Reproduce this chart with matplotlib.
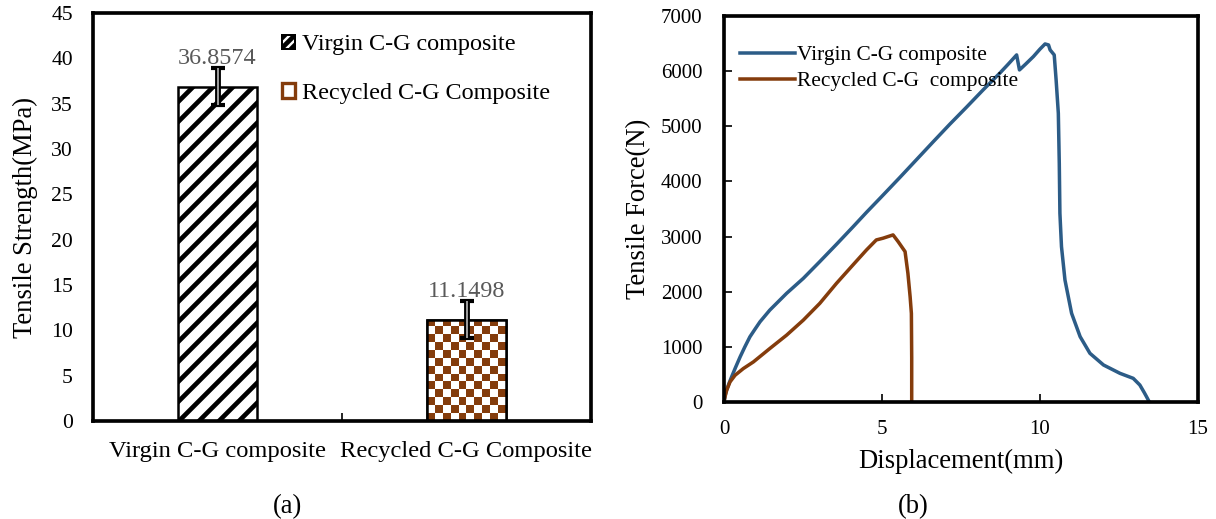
import numpy as np
import matplotlib
matplotlib.use("Agg")
import matplotlib.pyplot as plt
from matplotlib.patches import Patch

# =====================================================
# Data
# =====================================================

# (a) bar chart
categories = ["Virgin C-G composite", "Recycled C-G Composite"]
strength = [36.8574, 11.1498]
strength_err = [2.05, 2.05]
legend_a = ["Virgin C-G composite", "Recycled C-G Composite"]

# (b) force-displacement curves
virgin_x = [0.0, 0.03, 0.08, 0.16, 0.24, 0.36, 0.51, 0.66, 0.82, 0.98, 1.14,
            1.45, 1.98, 2.51, 3.03, 3.56, 4.08, 4.51, 4.98, 5.57, 6.10,
            6.63, 7.15, 7.68, 8.20, 8.73, 9.00, 9.26, 9.35, 9.55, 9.79,
            10.00, 10.16, 10.27, 10.32, 10.45, 10.51, 10.58, 10.61, 10.63,
            10.68, 10.79, 11.00, 11.27, 11.58, 12.01, 12.53, 12.95, 13.16,
            13.30, 13.37, 13.46]
virgin_y = [0, 100, 212, 340, 455, 620, 818, 1000, 1182, 1320, 1455,
            1667, 1970, 2242, 2545, 2860, 3175, 3440, 3720, 4075, 4400,
            4725, 5040, 5350, 5660, 5965, 6130, 6294, 6022, 6130, 6264,
            6400, 6493, 6475, 6385, 6294, 5840, 5236, 4329, 3422,
            2817, 2213, 1608, 1185, 883, 671, 520, 429, 308,
            170, 97, 0]

recycled_x = [0.0, 0.02, 0.05, 0.084, 0.19, 0.35, 0.61, 0.93, 1.45, 1.98,
              2.51, 3.03, 3.56, 4.08, 4.51, 4.82, 5.03, 5.35, 5.51, 5.73,
              5.82, 5.89, 5.93, 5.94, 5.94]
recycled_y = [0, 60, 140, 212, 364, 485, 606, 727, 970, 1212,
              1485, 1788, 2152, 2485, 2758, 2939, 2970, 3030, 2909, 2727,
              2333, 1909, 1606, 800, 0]

legend_b = ["Virgin C-G composite", "Recycled C-G  composite"]

# colours
brown = "#843C0C"
blue = "#2C5C87"

# =====================================================
# Figure
# =====================================================
plt.rcParams["font.family"] = ["Liberation Serif", "DejaVu Serif"]
plt.rcParams["hatch.linewidth"] = 2.8

dpi = 120
fig = plt.figure(figsize=(1216 / dpi, 519 / dpi), dpi=dpi)

ax1 = fig.add_axes([93 / 1216, 1 - 421 / 519, 498 / 1216, 408 / 519])
ax2 = fig.add_axes([724 / 1216, 1 - 402 / 519, 474 / 1216, 386 / 519])

# -----------------------------------------------------
# (a) Tensile strength bars
# -----------------------------------------------------
xpos = np.arange(len(categories))
bar_w = 0.315

ax1.set_xlim(-0.5, 1.5)
ax1.set_ylim(0, 45)

bars = ax1.bar(xpos, strength, width=bar_w, color="white",
               edgecolor="black", linewidth=1.5, zorder=2)
bars[0].set_hatch("//")

# checkerboard fill for the recycled bar (clipped to the bar)
fig.canvas.draw()
b = bars[1]
x0, y0 = b.get_x(), b.get_y()
x1, y1 = x0 + b.get_width(), y0 + b.get_height()
p0 = ax1.transData.transform((x0, y0))
p1 = ax1.transData.transform((x1, y1))
ncols = 10
cell = (p1[0] - p0[0]) / ncols
nrows = max(1, int(np.ceil((p1[1] - p0[1]) / cell)))
checker = (np.indices((nrows, ncols)).sum(axis=0) % 2 == 0).astype(float)
cmap = matplotlib.colors.ListedColormap(["white", brown])
top_y = y0 + nrows * cell * (y1 - y0) / (p1[1] - p0[1])
im = ax1.imshow(checker, cmap=cmap, extent=(x0, x1, y0, top_y),
                origin="lower", aspect="auto", interpolation="nearest",
                zorder=2.5)
im.set_clip_path(b)
ax1.bar([xpos[1]], [strength[1]], width=bar_w, fill=False,
        edgecolor="black", linewidth=1.5, zorder=3)
ax1.set_xlim(-0.5, 1.5)
ax1.set_ylim(0, 45)

# error bars: black outline with grey core
ax1.errorbar(xpos, strength, yerr=strength_err, fmt="none", ecolor="black",
             elinewidth=3.5, capsize=4, capthick=2.5, zorder=4)
ax1.errorbar(xpos, strength, yerr=strength_err, fmt="none", ecolor="#9a9a9a",
             elinewidth=1.2, capsize=0, zorder=5)

# value labels
for xi, v, e in zip(xpos, strength, strength_err):
    ax1.text(xi, v + e - 0.1, f"{v:.4f}", ha="center", va="bottom",
             fontsize=14.5, color="#595959")

ax1.set_xticks(xpos)
ax1.set_xticklabels(categories, fontsize=14.7)
ax1.tick_params(axis="x", length=0, pad=12)
ax1.set_xticks([0.5], minor=True)
ax1.tick_params(axis="x", which="minor", direction="in", length=5, width=1)
ax1.set_yticks(np.arange(0, 46, 5))
ax1.tick_params(axis="y", length=0, labelsize=13, pad=12)
ax1.set_ylabel("Tensile Strength(MPa)", fontsize=16, labelpad=8)

for s in ax1.spines.values():
    s.set_linewidth(2.2)

handles_a = [
    Patch(facecolor="white", edgecolor="black", hatch="////", linewidth=1.2),
    Patch(facecolor="white", edgecolor=brown, linewidth=2.0),
]
ax1.legend(handles_a, legend_a, loc="upper left",
           bbox_to_anchor=(0.35, 0.983), frameon=False, fontsize=14.5,
           handlelength=0.55, handleheight=0.55, handletextpad=0.3,
           labelspacing=1.15, borderaxespad=0.2)

fig.text(287 / 1216, 1 - 507 / 519, "(a)", ha="center", va="center",
         fontsize=16)

# -----------------------------------------------------
# (b) Force-displacement
# -----------------------------------------------------
ax2.plot(virgin_x, virgin_y, color=blue, linewidth=2.1,
         label=legend_b[0], solid_joinstyle="round")
ax2.plot(recycled_x, recycled_y, color=brown, linewidth=2.1,
         label=legend_b[1], solid_joinstyle="round")

ax2.set_xlim(0, 15)
ax2.set_ylim(0, 7000)
ax2.set_xticks([0, 5, 10, 15])
ax2.set_yticks(np.arange(0, 7001, 1000))
ax2.tick_params(axis="both", direction="in", length=5, width=1,
                labelsize=12.5)
ax2.tick_params(axis="x", pad=11)
ax2.tick_params(axis="y", pad=13)
ax2.set_xlabel("Displacement(mm)", fontsize=16, labelpad=6)
ax2.set_ylabel("Tensile Force(N)", fontsize=16, labelpad=6)

for s in ax2.spines.values():
    s.set_linewidth(2.2)

ax2.legend(loc="upper left", bbox_to_anchor=(-0.012, 0.98), frameon=False,
           fontsize=12.8, handlelength=2.6, handletextpad=0.1,
           labelspacing=0.3, borderaxespad=0.6)

fig.text(913 / 1216, 1 - 507 / 519, "(b)", ha="center", va="center",
         fontsize=16)

fig.savefig("out.png", dpi=dpi)
